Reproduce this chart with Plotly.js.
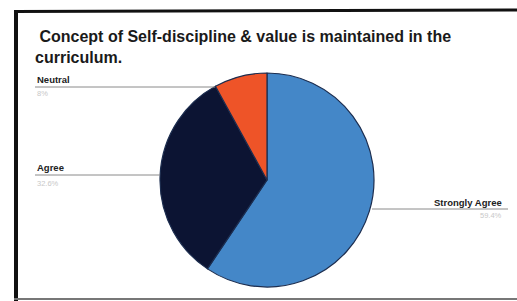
<!DOCTYPE html>
<html>
<head>
<meta charset="utf-8">
<script src="https://cdn.plot.ly/plotly-3.0.1.min.js"></script>
<style>
html,body{margin:0;padding:0;background:#ffffff;}
#chart{width:517px;height:301px;}
</style>
</head>
<body>
<div id="chart"></div>
<script>
var categories = ["Strongly Agree", "Agree", "Neutral"];
var values = [59.4, 32.6, 8.0];
var percentLabels = ["59.4%", "32.6%", "8%"];
var colors = ["#4487c8", "#0c1433", "#ee5428"];

var W = 517, H = 301;
function px(x){ return x / W; }
function py(y){ return 1 - y / H; }

var cx = 267, cy = 180, r = 107;

var trace = {
  type: "pie",
  labels: categories,
  values: values,
  sort: false,
  direction: "clockwise",
  rotation: 0,
  textinfo: "none",
  hoverinfo: "label+percent",
  showlegend: false,
  marker: {colors: colors, line: {color: "#1c2d4f", width: 1.2}},
  domain: {x: [px(cx - r), px(cx + r)], y: [py(cy + r), py(cy - r)]}
};

var labelPos = [
  {x: 432, y: 202, px: 478, py: 215, line: [372, 508, 209]},
  {x: 35, y: 167, px: 35, py: 183, line: [35, 160, 175]},
  {x: 35, y: 80, px: 35, py: 93, line: [35, 215, 87]}
];

var annotations = [];
var shapes = [];
for (var i = 0; i < categories.length; i++) {
  var p = labelPos[i];
  annotations.push({
    xref: "paper", yref: "paper", x: px(p.x), y: py(p.y),
    xanchor: "left", yanchor: "middle", showarrow: false,
    text: "<b>" + categories[i] + "</b>",
    font: {family: "Liberation Sans, Arial, sans-serif", size: 9.5, color: "#222222"}
  });
  annotations.push({
    xref: "paper", yref: "paper", x: px(p.px), y: py(p.py),
    xanchor: "left", yanchor: "middle", showarrow: false,
    text: percentLabels[i],
    font: {family: "Liberation Sans, Arial, sans-serif", size: 7.5, color: "#c8c8c8"}
  });
  shapes.push({
    type: "line", xref: "paper", yref: "paper",
    x0: px(p.line[0]), x1: px(p.line[1]), y0: py(p.line[2]), y1: py(p.line[2]),
    line: {color: "#8a8a8a", width: 1}
  });
}

annotations.push({
  xref: "paper", yref: "paper", x: px(33), y: py(47),
  xanchor: "left", yanchor: "middle", showarrow: false, align: "left",
  text: "<b>&nbsp;Concept of Self-discipline &amp; value is maintained in the<br>curriculum.</b>",
  font: {family: "Liberation Sans, Arial, sans-serif", size: 16, color: "#1a1a1a"}
});

// frame
shapes.push({type: "line", xref: "paper", yref: "paper", x0: px(16), x1: px(16), y0: py(10), y1: py(301), line: {color: "#111111", width: 4}});
shapes.push({type: "line", xref: "paper", yref: "paper", x0: px(14), x1: px(517), y0: py(11.5), y1: py(10), line: {color: "#111111", width: 3}});
shapes.push({type: "line", xref: "paper", yref: "paper", x0: px(14), x1: px(517), y0: py(299), y1: py(299), line: {color: "#777777", width: 2}});

var layout = {
  width: W, height: H,
  margin: {l: 0, r: 0, t: 0, b: 0},
  paper_bgcolor: "#ffffff",
  plot_bgcolor: "#ffffff",
  annotations: annotations,
  shapes: shapes
};

Plotly.newPlot("chart", [trace], layout, {displayModeBar: false, staticPlot: true});
</script>
</body>
</html>
